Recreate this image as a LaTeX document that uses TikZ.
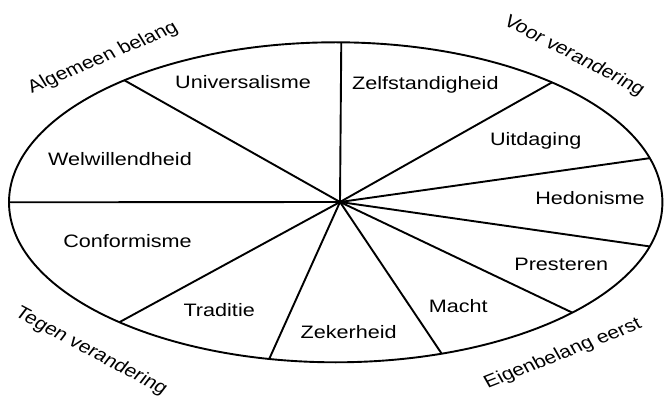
\documentclass[tikz,border=0pt]{standalone}
\usepackage{fontspec}
\setmainfont{Liberation Sans}
\usetikzlibrary{shapes.geometric}
\newcommand\hstretch[1]{\scalebox{1.2}[1]{#1}}
\begin{document}
\begin{tikzpicture}[x=1pt,y=-1pt,line width=1.9pt,
  seg/.style={font=\fontsize{18}{20}\selectfont, anchor=base, inner sep=0pt},
  side/.style={font=\fontsize{17.7}{19}\selectfont, inner sep=0pt},
  divider/.style={draw=black, line width=1.9pt}]
\useasboundingbox (0,0) rectangle (664,398);
\node[draw, ellipse, line width=1.9pt, minimum width=653.4pt, minimum height=320pt,
      inner sep=0pt, outer sep=0pt] (oval) at (335.7,202.3) {};
\coordinate (c) at (340,202);
% dividers
\draw[divider] (c) -- (oval.88.5);
\draw[divider] (c) -- (oval.29.9);
\draw[divider] (c) -- (oval.8.97);
\draw[divider] (c) -- (oval.-8.28);
\draw[divider] (c) -- (oval.-25.9);
\draw[divider] (c) -- (oval.-55.4);
\draw[divider] (c) -- (oval.247.4);
\draw[divider] (c) -- (oval.209.2);
\draw[divider] (c) -- (oval.180);
\draw[divider] (c) -- (oval.150.1);
% segment labels
\node[seg] (univ) at (243,88.3) {\hstretch{Universalisme}};
\node[seg] (welw) at (120,165.7) {\hstretch{Welwillendheid}};
\node[seg] (zelf) at (425.3,89.3) {\hstretch{Zelfstandigheid}};
\node[seg] (uitd) at (535.7,146) {\hstretch{Uitdaging}};
\node[seg] (hedo) at (590,205) {\hstretch{Hedonisme}};
\node[seg] (pres) at (561.2,270.7) {\hstretch{Presteren}};
\node[seg] (mach) at (458.3,312.3) {\hstretch{Macht}};
\node[seg] (zeke) at (348.7,338.3) {\hstretch{Zekerheid}};
\node[seg] (trad) at (219.2,316.3) {\hstretch{Traditie}};
\node[seg] (conf) at (127.5,247.3) {\hstretch{Conformisme}};
% side labels
\node[side] (alg) at (103,58) {\hstretch{\rotatebox{27}{Algemeen belang}}};
\node[side] (voor) at (574,56) {\hstretch{\rotatebox{-32}{Voor verandering}}};
\node[side] (tegen) at (91,351.5) {\hstretch{\rotatebox{-32.5}{Tegen verandering}}};
\node[side] (eigen) at (563,354) {\hstretch{\rotatebox{25.3}{Eigenbelang eerst}}};
\end{tikzpicture}
\end{document}
